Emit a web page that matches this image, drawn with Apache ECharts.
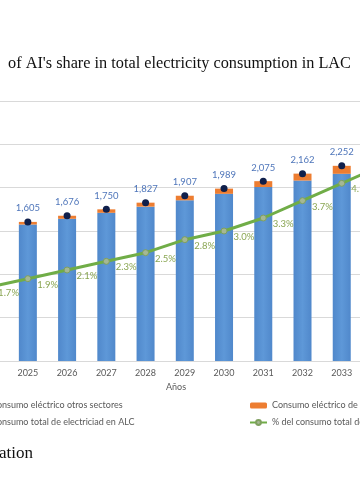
<!DOCTYPE html>
<html><head><meta charset="utf-8">
<script src="https://cdn.jsdelivr.net/npm/echarts@6/dist/echarts.min.js"></script>
<style>html,body{margin:0;padding:0;width:360px;height:504px;overflow:hidden;background:#fff}
#c{position:absolute;left:-60px;top:0;width:480px;height:504px}</style>
</head><body><div id="c"></div>
<script>
const years = ['2024','2025','2026','2027','2028','2029','2030','2031','2032','2033','2034'];
const totalALC = [1537, 1605, 1676, 1750, 1827, 1907, 1989, 2075, 2162, 2252, 2345];
const aiConsumption = [26, 30, 35, 40, 46, 53, 60, 68, 80, 92, 106];
const otherSectors = [1511, 1575, 1641, 1710, 1781, 1854, 1929, 2007, 2082, 2160, 2239];
const aiShare = [1.7, 1.9, 2.1, 2.3, 2.5, 2.8, 3.0, 3.3, 3.7, 4.1, 4.5];
const leftTicks = {min: 0, max: 3000, interval: 500};
const rightTicks = {min: 0, max: 6, interval: 1};

const F = 'Lato, "Open Sans", sans-serif';
const FS = 9;
const chart = echarts.init(document.getElementById('c'), null, {renderer: 'canvas'});
chart.setOption({
  animation: false,
  title: {text: "of AI's share in total electricity consumption in LAC", left: 63, top: 51,
    textStyle: {fontFamily: '"Liberation Serif", serif', fontSize: 16.3, fontWeight: 'normal', color: '#111'}},
  grid: {left: 29, right: 19.4, top: 101, bottom: 143},
  legend: [
    {orient: 'vertical', left: 25, top: 396, itemGap: 8, itemWidth: 16, itemHeight: 6,
      textStyle: {fontFamily: F, fontSize: FS, color: '#595959'},
      data: ['Consumo eléctrico otros sectores', 'Consumo total de electriciad en ALC']},
    {orient: 'vertical', left: 304, top: 396, itemGap: 8, itemWidth: 17, itemHeight: 6,
      textStyle: {fontFamily: F, fontSize: FS, color: '#595959'},
      data: ['Consumo eléctrico de la IA', '% del consumo total de electricidad de la IA']}
  ],
  xAxis: {type: 'category', data: years,
    axisTick: {show: false}, axisLine: {lineStyle: {color: '#d9d9d9'}},
    axisLabel: {fontFamily: F, fontSize: FS, color: '#595959', margin: 8, interval: (i) => i > 0}},
  yAxis: [
    {type: 'value', min: leftTicks.min, max: leftTicks.max, interval: leftTicks.interval,
      axisLabel: {show: false}, axisLine: {show: false}, splitLine: {lineStyle: {color: '#d9d9d9'}}},
    {type: 'value', min: rightTicks.min, max: rightTicks.max, interval: rightTicks.interval,
      axisLabel: {show: false}, axisLine: {show: false}, splitLine: {show: false}}
  ],
  graphic: [
    {type: 'text', left: 226, top: 383, style: {text: 'Años', font: FS + 'px Lato', fill: '#595959'}},
    {type: 'text', left: 59, top: 445, style: {text: 'ation', font: '17px "Liberation Serif"', fill: '#111'}}
  ],
  series: [
    {name: 'Consumo eléctrico otros sectores', type: 'bar', stack: 's', barWidth: 18,
      data: otherSectors,
      itemStyle: {color: new echarts.graphic.LinearGradient(0, 0, 1, 0, [
        {offset: 0, color: '#5088cb'}, {offset: 0.5, color: '#5e98d8'}, {offset: 1, color: '#5088cb'}])}},
    {name: 'Consumo eléctrico de la IA', type: 'bar', stack: 's', barWidth: 18,
      data: aiConsumption, itemStyle: {color: '#ed7d31'}},
    {name: 'Consumo total de electriciad en ALC', type: 'line',
      data: totalALC.map((v, i) => i === 0 ? {value: v, label: {show: false}} : v),
      symbol: 'circle', symbolSize: 7, lineStyle: {opacity: 0, width: 0},
      itemStyle: {color: '#0f1f4b'}, z: 5,
      label: {show: true, position: 'top', distance: 5, fontFamily: F, fontSize: FS + 0.5, color: '#4f76ba',
        formatter: p => p.value.toLocaleString('en-US')}},
    {name: '% del consumo total de electricidad de la IA', type: 'line', yAxisIndex: 1, data: aiShare,
      symbol: 'circle', symbolSize: 6, showAllSymbol: true,
      lineStyle: {color: '#70ad47', width: 3},
      itemStyle: {color: '#a5b894', borderColor: '#7f9f5f', borderWidth: 1}, z: 6,
      label: {show: true, position: 'right', distance: 6, offset: [0, 6], fontFamily: F, fontSize: FS + 0.5, color: '#8aa653',
        formatter: p => p.value.toFixed(1) + '%'}}
  ]
});
</script></body></html>
